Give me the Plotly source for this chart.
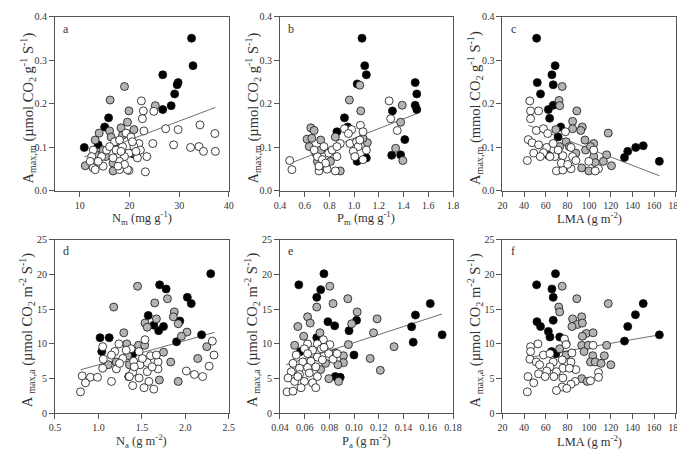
import plotly.graph_objects as go

# ---------------- data ----------------
# Panel a: Amax,m vs Nm
a_black_x = [32.5, 32.8, 26.7, 29.8, 29.6, 29.1, 28.4, 26.7, 15.8, 15.0, 10.9, 13.7, 20.9]
a_black_y = [0.351, 0.288, 0.267, 0.249, 0.244, 0.223, 0.196, 0.187, 0.168, 0.147, 0.100, 0.106, 0.085]
a_gray_x = [19.0, 16.1, 19.9, 25.2, 19.6, 18.3, 16.0, 13.9, 13.1, 20.9, 16.3, 17.3, 14.7, 13.1, 11.1, 15.2, 16.7, 16.7, 18.6, 20.3]
a_gray_y = [0.240, 0.209, 0.184, 0.196, 0.158, 0.145, 0.138, 0.133, 0.117, 0.141, 0.124, 0.113, 0.094, 0.085, 0.058, 0.079, 0.064, 0.046, 0.128, 0.087]
a_white_x = [22.4, 22.8, 24.9, 22.6, 22.9, 27.3, 29.8, 34.2, 37.2, 24.7, 28.9, 32.3, 34.0, 34.9, 37.3, 23.2, 19.3, 20.3, 17.0, 18.6,
             21.9, 20.9, 22.2, 23.5, 21.6, 19.9, 19.0, 18.0, 16.7, 15.4, 14.4, 12.7, 12.4, 12.1, 12.7, 13.1, 18.0, 19.9, 19.6, 16.0,
             17.3, 18.3, 20.6, 21.3, 18.0, 19.0, 17.7, 14.7, 13.7]
a_white_y = [0.207, 0.184, 0.183, 0.166, 0.138, 0.143, 0.141, 0.152, 0.132, 0.109, 0.106, 0.100, 0.102, 0.091, 0.091, 0.044, 0.133, 0.124, 0.113, 0.102,
             0.109, 0.102, 0.094, 0.079, 0.076, 0.087, 0.079, 0.068, 0.076, 0.094, 0.079, 0.094, 0.079, 0.068, 0.053, 0.049, 0.049, 0.047, 0.049, 0.102,
             0.094, 0.091, 0.113, 0.091, 0.117, 0.061, 0.057, 0.057, 0.068]
a_fit_x = [10.9, 37.3]
a_fit_y = [0.078, 0.192]

# Panel b: Amax,m vs Pm
b_black_x = [1.064, 1.086, 1.099, 1.025, 1.494, 1.507, 1.494, 1.507, 0.922, 0.948, 0.861, 1.310, 1.410, 1.304, 1.376, 1.025, 1.099]
b_black_y = [0.351, 0.288, 0.267, 0.246, 0.249, 0.223, 0.197, 0.187, 0.168, 0.147, 0.136, 0.184, 0.118, 0.082, 0.083, 0.068, 0.076]
b_gray_x = [1.046, 0.962, 1.054, 1.389, 1.376, 0.650, 0.677, 0.619, 0.658, 0.730, 0.637, 0.690, 0.848, 1.107, 1.072, 1.336, 1.394,
            0.888, 0.809, 0.703, 0.756, 0.730]
b_gray_y = [0.243, 0.209, 0.184, 0.197, 0.158, 0.145, 0.139, 0.119, 0.121, 0.117, 0.102, 0.087, 0.124, 0.111, 0.121, 0.098, 0.070,
            0.046, 0.068, 0.068, 0.057, 0.094]
b_white_x = [1.283, 1.296, 1.349, 0.922, 0.980, 1.051, 1.072, 0.954, 0.888, 0.967, 1.020, 1.033, 0.993, 1.072, 1.046, 0.479,
             0.497, 0.756, 0.795, 0.703, 0.743, 0.716, 0.782, 0.848, 0.861, 0.822, 0.677, 0.769, 0.716, 0.861, 1.099, 1.006]
b_white_y = [0.207, 0.166, 0.139, 0.143, 0.141, 0.151, 0.136, 0.132, 0.109, 0.109, 0.113, 0.102, 0.091, 0.072, 0.117, 0.070,
             0.049, 0.102, 0.087, 0.079, 0.072, 0.046, 0.050, 0.046, 0.079, 0.094, 0.094, 0.064, 0.057, 0.102, 0.094, 0.079]
b_fit_x = [0.48, 1.51]
b_fit_y = [0.063, 0.178]

# Panel c: Amax,m vs LMA
c_black_x = [51.6, 68.7, 65.7, 52.2, 66.9, 55.2, 66.9, 62.4, 63.6, 73.8, 71.4, 62.4, 132.7, 135.7, 143.1, 150.0, 164.9]
c_black_y = [0.351, 0.288, 0.267, 0.249, 0.244, 0.223, 0.197, 0.187, 0.167, 0.147, 0.124, 0.082, 0.077, 0.091, 0.100, 0.104, 0.068]
c_gray_x = [75.2, 72.3, 72.9, 88.7, 84.8, 93.8, 84.8, 92.3, 117.7, 69.3, 96.2, 104.3, 96.8, 104.3, 116.2, 113.2, 120.7, 93.2,
            99.8, 78.8, 81.8, 87.8, 105.7, 72.9, 101.3]
c_gray_y = [0.240, 0.208, 0.196, 0.184, 0.160, 0.147, 0.143, 0.139, 0.133, 0.141, 0.117, 0.109, 0.094, 0.079, 0.083, 0.068, 0.058, 0.053,
            0.046, 0.113, 0.102, 0.087, 0.065, 0.102, 0.102]
c_white_x = [45.3, 46.0, 53.4, 46.0, 51.3, 57.9, 61.8, 78.2, 43.9, 47.4, 53.4, 60.9, 48.9, 43.0, 57.9, 68.4, 75.8, 83.3, 84.8,
             87.8, 69.9, 75.8, 83.3, 99.8, 108.7, 105.7, 104.3, 66.9, 71.4, 63.9, 74.4, 80.3, 54.9]
c_white_y = [0.207, 0.184, 0.184, 0.166, 0.139, 0.143, 0.132, 0.136, 0.118, 0.111, 0.106, 0.100, 0.087, 0.070, 0.088, 0.079, 0.081, 0.100, 0.079,
             0.070, 0.046, 0.048, 0.051, 0.068, 0.051, 0.046, 0.094, 0.109, 0.094, 0.079, 0.064, 0.061, 0.079]
c_fit_x = [43.9, 164.9]
c_fit_y = [0.151, 0.035]

# Panel d: Amax,a vs Na
d_black_x = [2.292, 1.704, 1.779, 2.023, 2.068, 1.573, 1.637, 1.749, 1.693, 1.937, 2.187, 1.899, 1.019, 1.124, 1.038, 1.349, 1.394]
d_black_y = [20.1, 18.5, 17.9, 16.7, 15.8, 14.1, 12.7, 12.5, 11.9, 13.3, 11.3, 10.3, 10.9, 10.9, 8.9, 5.3, 8.5]
d_gray_x = [1.450, 1.176, 1.794, 1.648, 1.873, 1.862, 1.667, 1.536, 1.562, 1.918, 2.019, 1.955, 1.292, 2.247, 1.461, 1.532, 1.326,
            1.749, 2.143, 1.832, 1.356, 1.206, 1.113, 1.701, 1.918, 1.337]
d_gray_y = [18.3, 15.3, 16.5, 15.9, 14.6, 13.9, 13.6, 13.0, 12.4, 12.9, 11.7, 11.1, 11.6, 9.6, 9.8, 9.8, 10.0,
            8.8, 7.9, 7.4, 7.0, 7.4, 7.0, 4.8, 4.6, 8.3]
d_white_x = [1.049, 1.236, 1.536, 1.188, 1.375, 1.468, 1.600, 1.056, 1.150, 1.281, 1.405, 1.480, 1.562, 1.686, 1.667, 2.330,
             2.311, 2.274, 1.049, 1.206, 1.394, 1.562, 1.686, 2.012, 2.105, 2.199, 0.813, 0.907, 0.989, 0.851, 0.794, 1.150,
             1.394, 1.525, 1.637, 1.468, 1.581, 1.244, 1.319, 1.412, 1.506, 1.618, 1.356]
d_white_y = [9.6, 10.0, 10.6, 8.9, 9.3, 8.9, 8.3, 7.8, 8.4, 7.9, 7.5, 7.0, 7.3, 7.4, 8.4, 8.4,
             10.4, 6.8, 6.5, 6.4, 5.9, 6.0, 6.4, 6.1, 5.6, 5.3, 5.4, 5.2, 5.2, 4.4, 3.1, 4.6,
             4.0, 3.7, 3.5, 5.1, 4.6, 7.2, 9.1, 6.7, 7.9, 6.7, 5.3]
d_fit_x = [0.794, 2.337]
d_fit_y = [6.27, 11.66]

# Panel e: Amax,a vs Pa
e_black_x = [0.0756, 0.0553, 0.0730, 0.0698, 0.1616, 0.1496, 0.0788, 0.0843, 0.1020, 0.0959, 0.1465, 0.1478, 0.0698, 0.0999,
             0.0566, 0.0848, 0.0888, 0.1712]
e_black_y = [20.1, 18.5, 17.8, 16.7, 15.8, 14.15, 13.2, 12.6, 13.4, 11.9, 12.46, 10.25, 10.9, 8.4,
             8.9, 5.3, 5.2, 11.3]
e_gray_x = [0.0804, 0.0830, 0.0949, 0.0698, 0.1025, 0.0624, 0.0980, 0.1186, 0.0645, 0.0545, 0.1157, 0.0724, 0.0592, 0.0954,
            0.1323, 0.0519, 0.0848, 0.0914, 0.1130, 0.0914, 0.0869, 0.0769, 0.1212, 0.0796, 0.0875, 0.0729]
e_gray_y = [18.3, 15.8, 16.5, 15.3, 14.6, 13.9, 12.9, 13.6, 13.0, 12.5, 11.6, 11.6, 11.1, 9.9,
            9.6, 9.8, 8.7, 8.3, 7.9, 7.3, 7.0, 7.2, 6.2, 5.0, 4.6, 6.3]
e_white_x = [0.0751, 0.0804, 0.0703, 0.0624, 0.0598, 0.0664, 0.0735, 0.0795, 0.0532, 0.0624, 0.0703, 0.0506, 0.0585, 0.0651,
             0.0743, 0.0830, 0.0558, 0.0624, 0.0690, 0.0492, 0.0558, 0.0637, 0.0703, 0.0466, 0.0519, 0.0598, 0.0664, 0.0458,
             0.0506, 0.0571, 0.0690, 0.0756, 0.0545, 0.0862]
e_white_y = [10.6, 9.9, 10.0, 10.0, 9.3, 9.1, 9.3, 8.6, 8.4, 8.6, 8.1, 7.2, 7.4, 7.5,
             7.7, 7.8, 6.5, 6.6, 6.7, 6.0, 5.6, 5.8, 5.3, 5.1, 4.6, 4.6, 4.4, 3.1,
             3.2, 3.7, 3.7, 9.5, 5.3, 8.6]
e_fit_x = [0.045, 0.171]
e_fit_y = [7.0, 14.3]

# Panel f: Amax,a vs LMA
f_black_x = [69.0, 51.6, 65.7, 66.9, 150.0, 142.8, 66.9, 51.9, 55.2, 135.7, 62.4, 164.9, 72.9, 63.9, 132.7, 65.4, 69.3]
f_black_y = [20.1, 18.5, 17.9, 16.7, 15.8, 14.2, 13.4, 13.2, 12.5, 12.5, 11.8, 11.3, 11.0, 11.0, 10.4, 8.9, 8.6]
f_gray_x = [75.2, 88.7, 72.0, 117.7, 72.9, 84.8, 93.2, 89.3, 93.8, 84.2, 97.4, 103.7, 93.8, 93.2, 99.2, 116.2, 95.3,
            78.8, 72.9, 103.4, 114.1, 101.3, 105.7, 111.1, 120.1, 93.2, 98.3, 78.8]
f_gray_y = [18.3, 16.5, 15.3, 15.8, 14.6, 13.6, 13.9, 12.8, 13.0, 12.5, 11.5, 11.6, 11.1, 9.8, 9.8, 9.8, 8.9,
            10.0, 9.3, 8.3, 8.3, 7.4, 7.4, 7.2, 7.0, 5.0, 4.6, 8.4]
f_white_x = [46.0, 52.8, 46.0, 57.9, 63.9, 45.4, 51.3, 77.3, 78.8, 103.7, 84.2, 83.3, 75.2, 66.9, 63.9, 75.8, 87.8, 81.8,
             54.3, 60.9, 69.9, 43.6, 53.4, 59.4, 67.5, 48.9, 75.8, 87.2, 108.7, 108.7, 83.3, 75.2, 79.4, 69.9, 43.0, 101.3]
f_white_y = [9.6, 10.0, 8.9, 8.4, 8.6, 7.8, 7.4, 10.7, 9.9, 9.8, 8.7, 7.4, 7.7, 7.4, 6.7, 6.5, 6.3, 6.5,
             7.0, 6.1, 6.0, 5.3, 5.7, 5.3, 5.3, 4.4, 5.1, 4.6, 5.9, 5.2, 4.2, 3.8, 3.6, 3.3, 3.1, 4.7]
f_fit_x = [43.0, 164.9]
f_fit_y = [8.0, 11.3]

# Axis ticks
xt_nm = [10, 20, 30, 40]
xt_pm = [0.4, 0.6, 0.8, 1.0, 1.2, 1.4, 1.6, 1.8]
xt_lma = [20, 40, 60, 80, 100, 120, 140, 160, 180]
xt_na = [0.5, 1.0, 1.5, 2.0, 2.5]
xt_pa = [0.04, 0.06, 0.08, 0.10, 0.12, 0.14, 0.16, 0.18]
yt_m = [0.0, 0.1, 0.2, 0.3, 0.4]
yt_a = [0, 5, 10, 15, 20, 25]

# ---------------- figure ----------------
W, H = 685, 450
FONT = "Liberation Serif"
AXC = "#555555"
TXT = "#333333"
GRAY = "#b4b4b4"

def px_x(p):
    return p / W

def px_y(p):
    return 1 - p / H

cols = [(39.0, 217.5), (270.0, 447.8), (498.5, 676.5)]
rows = [(4.0, 182.0), (231.8, 409.5)]

ytitle_m = "A<sub>max,m</sub> (µmol CO<sub>2</sub> g<sup>-1</sup> S<sup>-1</sup>)"
ytitle_mc = "A<sub>max,m</sub> (mmol CO<sub>2</sub> g<sup>-1</sup> S<sup>-1</sup>)"
ytitle_a = "A <sub>max,a</sub> (µmol CO<sub>2</sub> m<sup>-2</sup> S<sup>-1</sup>)"

panels = [
    dict(L="a", r=0, c=0, b=(a_black_x, a_black_y), g=(a_gray_x, a_gray_y), w=(a_white_x, a_white_y), fit=(a_fit_x, a_fit_y),
         xr=[5, 40], xt=xt_nm, xf="d", yr=[0, 0.4], yt=yt_m, yf=".1f",
         xtitle="N<sub>m</sub> (mg g<sup>-1</sup>)", ytitle=ytitle_m),
    dict(L="b", r=0, c=1, b=(b_black_x, b_black_y), g=(b_gray_x, b_gray_y), w=(b_white_x, b_white_y), fit=(b_fit_x, b_fit_y),
         xr=[0.4, 1.8], xt=xt_pm, xf=".1f", yr=[0, 0.4], yt=yt_m, yf=".1f",
         xtitle="P<sub>m</sub> (mg g<sup>-1</sup>)", ytitle=ytitle_m),
    dict(L="c", r=0, c=2, b=(c_black_x, c_black_y), g=(c_gray_x, c_gray_y), w=(c_white_x, c_white_y), fit=(c_fit_x, c_fit_y),
         xr=[20, 180], xt=xt_lma, xf="d", yr=[0, 0.4], yt=yt_m, yf=".1f",
         xtitle="LMA (g m<sup>-2</sup>)", ytitle=ytitle_mc),
    dict(L="d", r=1, c=0, b=(d_black_x, d_black_y), g=(d_gray_x, d_gray_y), w=(d_white_x, d_white_y), fit=(d_fit_x, d_fit_y),
         xr=[0.5, 2.5], xt=xt_na, xf=".1f", yr=[0, 25], yt=yt_a, yf="d",
         xtitle="N<sub>a</sub> (g m<sup>-2</sup>)", ytitle=ytitle_a),
    dict(L="e", r=1, c=1, b=(e_black_x, e_black_y), g=(e_gray_x, e_gray_y), w=(e_white_x, e_white_y), fit=(e_fit_x, e_fit_y),
         xr=[0.04, 0.18], xt=xt_pa, xf=".2f", yr=[0, 25], yt=yt_a, yf="d",
         xtitle="P<sub>a</sub> (g m<sup>-2</sup>)", ytitle=ytitle_a),
    dict(L="f", r=1, c=2, b=(f_black_x, f_black_y), g=(f_gray_x, f_gray_y), w=(f_white_x, f_white_y), fit=(f_fit_x, f_fit_y),
         xr=[20, 180], xt=xt_lma, xf="d", yr=[0, 25], yt=yt_a, yf="d",
         xtitle="LMA (g m<sup>-2</sup>)", ytitle=ytitle_a),
]

fig = go.Figure()
annotations = []
layout = {}

for i, p in enumerate(panels):
    n = "" if i == 0 else str(i + 1)
    xa, ya = "x" + n, "y" + n
    x0, x1 = cols[p["c"]]
    yt0, yb0 = rows[p["r"]]
    layout["xaxis" + n] = dict(
        domain=[px_x(x0), px_x(x1)], range=p["xr"], anchor=ya,
        tickvals=p["xt"], tickformat=p["xf"], ticks="outside", ticklen=5, tickwidth=1, tickcolor=AXC,
        showline=True, linecolor=AXC, linewidth=1, mirror=True, showgrid=False, zeroline=False,
        tickfont=dict(family=FONT, size=10, color=TXT), fixedrange=True,
    )
    layout["yaxis" + n] = dict(
        domain=[px_y(yb0), px_y(yt0)], range=p["yr"], anchor=xa,
        tickvals=p["yt"], tickformat=p["yf"], ticks="outside", ticklen=5, tickwidth=1, tickcolor=AXC,
        showline=True, linecolor=AXC, linewidth=1, mirror=True, showgrid=False, zeroline=False,
        tickfont=dict(family=FONT, size=10, color=TXT), fixedrange=True,
    )
    # regression line
    fig.add_trace(go.Scatter(x=p["fit"][0], y=p["fit"][1], mode="lines", xaxis=xa, yaxis=ya,
                             line=dict(color="#707070", width=1), showlegend=False, hoverinfo="skip"))
    for (xs, ys), col in ((p["b"], "#000000"), (p["g"], GRAY), (p["w"], "#ffffff")):
        fig.add_trace(go.Scatter(x=xs, y=ys, mode="markers", xaxis=xa, yaxis=ya, showlegend=False,
                                 marker=dict(size=8, color=col, line=dict(color="#111111", width=0.8))))
    # panel letter
    annotations.append(dict(text=p["L"], x=px_x(x0 + 11), y=px_y(yt0 + 12), xref="paper", yref="paper",
                            showarrow=False, xanchor="center", yanchor="middle",
                            font=dict(family=FONT, size=12, color=TXT)))
    # x title
    annotations.append(dict(text=p["xtitle"], x=px_x((x0 + x1) / 2), y=px_y(yb0 + 28), xref="paper", yref="paper",
                            showarrow=False, xanchor="center", yanchor="middle",
                            font=dict(family=FONT, size=12.5, color=TXT)))
    # y title
    annotations.append(dict(text=p["ytitle"], x=px_x(x0 - 28), y=px_y((yt0 + yb0) / 2 + 4), xref="paper", yref="paper",
                            showarrow=False, xanchor="center", yanchor="middle", textangle=-90,
                            font=dict(family=FONT, size=14.5, color=TXT)))

fig.update_layout(
    width=W, height=H, margin=dict(l=0, r=0, t=0, b=0),
    paper_bgcolor="white", plot_bgcolor="white",
    annotations=annotations, showlegend=False, **layout,
)

fig.write_html("out.html")
